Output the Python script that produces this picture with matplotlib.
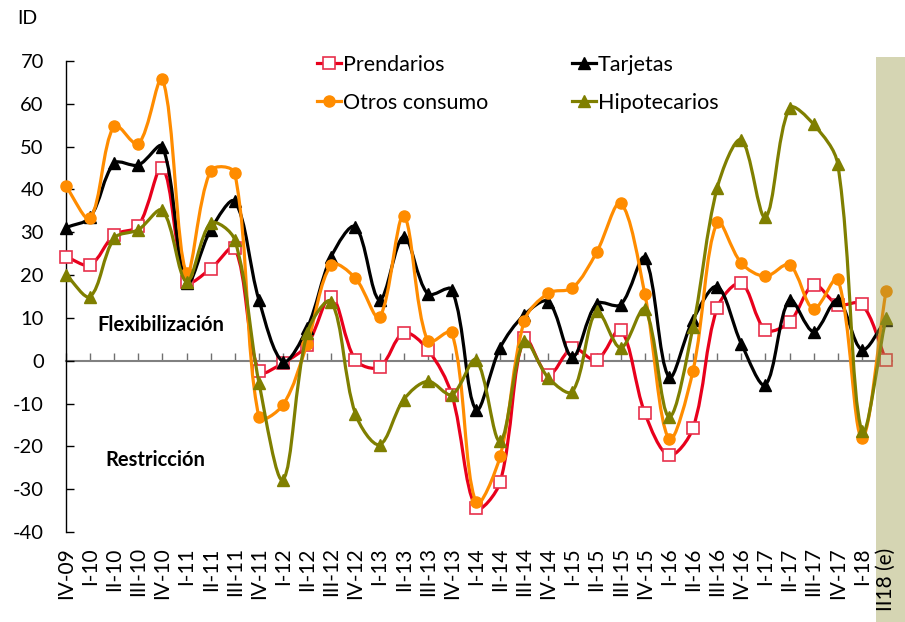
import matplotlib
matplotlib.use("Agg")
import matplotlib.pyplot as plt
from matplotlib.path import Path
from matplotlib.patches import PathPatch, Rectangle
from matplotlib.lines import Line2D
from matplotlib.transforms import blended_transform_factory

plt.rcParams['font.family'] = ['Lato', 'DejaVu Sans']
plt.rcParams['axes.unicode_minus'] = False

quarters = ["IV-09", "I-10", "II-10", "III-10", "IV-10", "I-11", "II-11", "III-11",
            "IV-11", "I-12", "II-12", "III-12", "IV-12", "I-13", "II-13", "III-13",
            "IV-13", "I-14", "II-14", "III-14", "IV-14", "I-15", "II-15", "III-15",
            "IV-15", "I-16", "II-16", "III-16", "IV-16", "I-17", "II-17", "III-17",
            "IV-17", "I-18", "II18 (e)"]

prendarios = [24.3, 22.4, 29.4, 31.5, 45.1, 18.5, 21.5, 26.3, -2.5, -0.5, 3.7, 15.0,
              0.2, -1.5, 6.5, 2.6, -8.0, -34.4, -28.4, 5.3, -3.3, 3.0, 0.1, 7.2,
              -12.2, -22.1, -15.7, 12.3, 18.1, 7.2, 9.0, 17.7, 13.1, 13.2, 0.2]
tarjetas = [31.1, 33.5, 46.1, 45.7, 50.0, 18.1, 30.6, 37.2, 14.2, -0.2, 7.6, 24.3,
            31.3, 14.2, 29.0, 15.6, 16.6, -11.4, 3.0, 10.7, 13.8, 0.9, 13.3, 13.1,
            24.0, -3.8, 9.6, 17.3, 4.0, -5.6, 14.2, 6.8, 14.2, 2.6, 9.6]
otros_consumo = [40.7, 33.3, 54.9, 50.6, 65.8, 20.5, 44.4, 43.8, -13.2, -10.3, 4.0, 22.4,
                 19.3, 10.2, 33.8, 4.5, 6.6, -33.1, -22.3, 9.2, 15.8, 17.0, 25.3, 36.8,
                 15.6, -18.3, -2.3, 32.3, 22.8, 19.7, 22.4, 12.1, 19.1, -18.0, 16.2]
hipotecarios = [20.1, 15.0, 28.6, 30.6, 35.1, 18.5, 32.1, 28.2, -5.1, -27.8, 6.5, 13.8,
                -12.4, -19.6, -9.1, -4.8, -7.9, 0.2, -18.8, 4.5, -4.0, -7.2, 11.5, 3.0,
                12.1, -13.1, 7.9, 40.3, 51.6, 33.5, 59.0, 55.2, 45.9, -16.5, 10.0]

# pixels per data unit, used to weight the smoothing like excel does
SX, SY = 24.12, 4.286


def smooth_path(xs, ys):
    # excel-like smoothed line: cubic bezier, tangents weighted by segment length
    pts = list(zip(xs, ys))
    n = len(pts)

    def dist(a, b):
        return (((a[0] - b[0]) * SX) ** 2 + ((a[1] - b[1]) * SY) ** 2) ** 0.5

    verts = [pts[0]]
    codes = [Path.MOVETO]
    for i in range(n - 1):
        p0 = pts[i - 1] if i > 0 else pts[i]
        p1 = pts[i]
        p2 = pts[i + 1]
        p3 = pts[i + 2] if i + 2 < n else pts[i + 1]
        d01, d12, d23 = dist(p0, p1), dist(p1, p2), dist(p2, p3)
        f1 = d12 / (d01 + d12) / 3 if d01 + d12 else 0
        f2 = d12 / (d12 + d23) / 3 if d12 + d23 else 0
        c1 = (p1[0] + (p2[0] - p0[0]) * f1, p1[1] + (p2[1] - p0[1]) * f1)
        c2 = (p2[0] - (p3[0] - p1[0]) * f2, p2[1] - (p3[1] - p1[1]) * f2)
        verts += [c1, c2, p2]
        codes += [Path.CURVE4] * 3
    return Path(verts, codes)


series = [
    ("Prendarios", prendarios, "#e8001c", dict(marker="s", mfc="white", mec="#e8304c", ms=8.5, mew=1.2)),
    ("Tarjetas", tarjetas, "black", dict(marker="^", mfc="black", mec="black", ms=8.5, mew=1)),
    ("Otros consumo", otros_consumo, "#ff8c00", dict(marker="o", mfc="#ff8c00", mec="#ff8c00", ms=8, mew=1)),
    ("Hipotecarios", hipotecarios, "#7f7f00", dict(marker="^", mfc="#7f7f00", mec="#7f7f00", ms=9, mew=1)),
]

fig = plt.figure(figsize=(9.05, 6.22), dpi=100)
ax = fig.add_axes([66 / 905, 1 - 532 / 622, (892 - 66) / 905, (532 - 61) / 622])

x = list(range(len(quarters)))
handles = {}
for k, (name, ys, color, mk) in enumerate(series):
    ax.add_patch(PathPatch(smooth_path(x, ys), fill=False, edgecolor=color, lw=2.3,
                           zorder=3 + k * 0.1, clip_on=False))
    ax.plot(x, ys, linestyle="none", zorder=3.05 + k * 0.1, clip_on=False, **mk)
    handles[name] = Line2D([], [], color=color, lw=2.3, **mk)

ax.set_xlim(0, 34.25)
ax.set_ylim(-40, 70)
ax.set_yticks(range(-40, 71, 10))
ax.tick_params(axis="y", direction="in", length=6, width=1, pad=16, labelsize=14.5)
ax.set_xticks(x)
ax.set_xticklabels(quarters, rotation=90, fontsize=15)
ax.tick_params(axis="x", length=0, pad=11)
for s in ("top", "right", "bottom"):
    ax.spines[s].set_visible(False)
ax.spines["left"].set_linewidth(1)

# zero line with category ticks
zero = ax.secondary_xaxis(40 / 110)
zero.set_xticks(x)
zero.tick_params(direction="in", length=6, width=1, color="#707070", labelbottom=False, labeltop=False)
zero.spines["bottom"].set_color("#808080")
zero.spines["bottom"].set_linewidth(1.5)

# estimated quarter band
band = Rectangle((33.58, 0), 1.3, 1 - 57 / 622,
                 transform=blended_transform_factory(ax.transData, fig.transFigure),
                 facecolor=(152 / 255, 152 / 255, 67 / 255), alpha=0.4, lw=0,
                 clip_on=False, zorder=5)
ax.add_patch(band)
ax.xaxis.set_zorder(6)

ax.text(1.29, 8.4, "Flexibilización", fontsize=14.5, fontweight="bold", va="center", ha="left")
ax.text(1.62, -23.1, "Restricción", fontsize=14.5, fontweight="bold", va="center", ha="left")
fig.text(17 / 905, 1 - 18 / 622, "ID", fontsize=14, va="center", ha="left")

order = ["Prendarios", "Otros consumo", "Tarjetas", "Hipotecarios"]
ax.legend([handles[n] for n in order], order, ncol=2, frameon=False, fontsize=15.5,
          loc="upper left", bbox_to_anchor=(317 / 905, 1 - 55 / 622),
          bbox_transform=fig.transFigure, borderpad=0, handlelength=1.1,
          handletextpad=0.1, columnspacing=3.9, labelspacing=0.83, borderaxespad=0)

fig.savefig("out.png", dpi=100)
